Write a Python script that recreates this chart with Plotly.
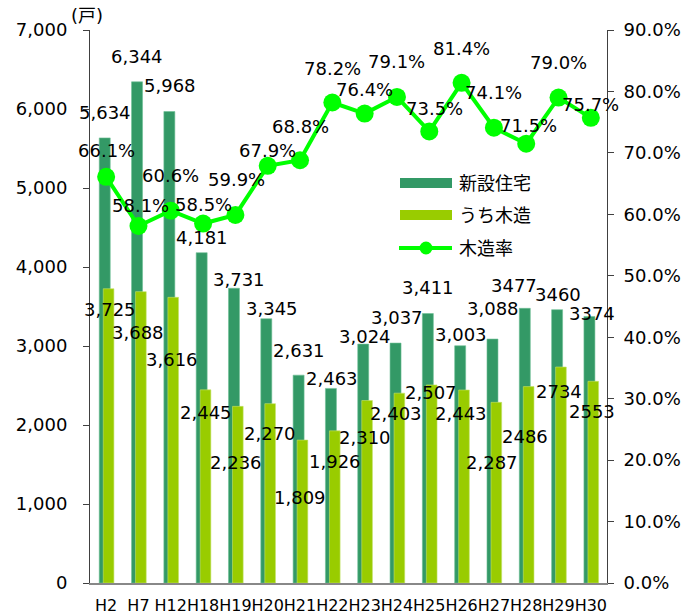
import plotly.graph_objects as go

# ---- data ----
categories = ["H2", "H7", "H12", "H18", "H19", "H20", "H21", "H22",
              "H23", "H24", "H25", "H26", "H27", "H28", "H29", "H30"]
new_houses = [5634, 6344, 5968, 4181, 3731, 3345, 2631, 2463,
              3024, 3037, 3411, 3003, 3088, 3477, 3460, 3374]
new_labels = ["5,634", "6,344", "5,968", "4,181", "3,731", "3,345", "2,631", "2,463",
              "3,024", "3,037", "3,411", "3,003", "3,088", "3477", "3460", "3374"]
wooden = [3725, 3688, 3616, 2445, 2236, 2270, 1809, 1926,
          2310, 2403, 2507, 2443, 2287, 2486, 2734, 2553]
wooden_labels = ["3,725", "3,688", "3,616", "2,445", "2,236", "2,270", "1,809", "1,926",
                 "2,310", "2,403", "2,507", "2,443", "2,287", "2486", "2734", "2553"]
wood_rate = [66.1, 58.1, 60.6, 58.5, 59.9, 67.9, 68.8, 78.2,
             76.4, 79.1, 73.5, 81.4, 74.1, 71.5, 79.0, 75.7]

# label offsets in pixels (dx, dy; dy positive = up) - style only
new_off = [(-1, 25), (-1, 25), (-1, 26), (-1, 15), (4, 9), (4, 10), (-1, 25), (0, 10),
           (0, 8), (0, 26), (-1, 26), (-1, 11), (-1, 31), (-12, 23), (-1, 15), (1, 3)]
wood_off = [(4, -21), (0, -41), (1, -62), (3, -23), (1, -56), (2, -30), (0, -57), (3, -31),
            (0, -37), (-1, -20), (2, -8), (-1, -23), (-2, -60), (-1, -50), (0, -24), (1, -30)]
rate_off = [(0, 26), (2, 21), (0, 35), (0, 19), (1, 35), (0, 15), (0, 34), (0, 34),
            (0, 24), (0, 35), (5, 23), (0, 34), (0, 35), (2, 18), (0, 35), (0, 13)]

DARK = "#339966"
LIGHT = "#99CC00"
LINE = "#00FF00"
FONT = "DejaVu Sans, Noto Sans CJK JP, sans-serif"
FS = 18

W, H = 687, 615
L, R, T, B = 90, 80, 30, 32
PW, PH = W - L - R, H - T - B


def px(x):
    return (x - L) / PW


def py(y):
    return (H - B - y) / PH


fig = go.Figure()
fig.add_trace(go.Bar(x=categories, y=new_houses, name="新設住宅",
                     marker=dict(color=DARK, line=dict(color="#6fbf95", width=0.6)),
                     width=0.34, offset=-0.214, showlegend=False))
fig.add_trace(go.Bar(x=categories, y=wooden, name="うち木造",
                     marker=dict(color=LIGHT, line=dict(color="#c4e36a", width=0.6)),
                     width=0.33, offset=-0.09, showlegend=False))
fig.add_trace(go.Scatter(x=categories, y=[r / 100 for r in wood_rate], name="木造率",
                         yaxis="y2", mode="lines+markers",
                         line=dict(color=LINE, width=4),
                         marker=dict(color=LINE, size=18), showlegend=False))

annotations = []
for c, v, t, (dx, dy) in zip(categories, new_houses, new_labels, new_off):
    annotations.append(dict(x=c, y=v, xref="x", yref="y", text=t, showarrow=False,
                            xshift=dx, yshift=dy, font=dict(size=FS, color="#000")))
for c, v, t, (dx, dy) in zip(categories, wooden, wooden_labels, wood_off):
    annotations.append(dict(x=c, y=v, xref="x", yref="y", text=t, showarrow=False,
                            xshift=dx, yshift=dy, font=dict(size=FS, color="#000")))
for c, v, (dx, dy) in zip(categories, wood_rate, rate_off):
    annotations.append(dict(x=c, y=v / 100, xref="x", yref="y2", text=f"{v:.1f}%",
                            showarrow=False, xshift=dx, yshift=dy,
                            font=dict(size=FS, color="#000")))

# unit label
annotations.append(dict(x=px(87), y=py(15), xref="paper", yref="paper", text="(戸)",
                        showarrow=False, xanchor="center", yanchor="middle",
                        font=dict(size=FS, color="#000")))

# custom legend
shapes = []
legend_items = [("新設住宅", DARK, 183), ("うち木造", LIGHT, 215)]
for name, col, yc in legend_items:
    shapes.append(dict(type="rect", xref="paper", yref="paper",
                       x0=px(400), x1=px(452), y0=py(yc - 5), y1=py(yc + 5),
                       fillcolor=col, line=dict(width=0)))
    annotations.append(dict(x=px(457), y=py(yc), xref="paper", yref="paper", text=name,
                            showarrow=False, xanchor="left", yanchor="middle",
                            font=dict(size=18, color="#000")))
shapes.append(dict(type="line", xref="paper", yref="paper",
                   x0=px(399), x1=px(452), y0=py(248), y1=py(248),
                   line=dict(color=LINE, width=4)))
shapes.append(dict(type="circle", xref="paper", yref="paper",
                   x0=px(419.5), x1=px(432.5), y0=py(254.5), y1=py(241.5),
                   fillcolor=LINE, line=dict(width=0)))
annotations.append(dict(x=px(457), y=py(248), xref="paper", yref="paper", text="木造率",
                        showarrow=False, xanchor="left", yanchor="middle",
                        font=dict(size=18, color="#000")))

fig.update_layout(
    width=W, height=H,
    margin=dict(l=L, r=R, t=T, b=B, pad=0),
    paper_bgcolor="white", plot_bgcolor="white",
    barmode="overlay",
    font=dict(family=FONT, size=FS, color="#000"),
    xaxis=dict(type="category", range=[-0.5, len(categories) - 0.5],
               showline=True, linecolor="#888888", linewidth=2,
               ticks="", tickangle=0, showgrid=False, zeroline=False,
               tickfont=dict(size=16), ticklabelstandoff=7, automargin=False),
    yaxis=dict(range=[0, 7000], dtick=1000, tickformat=",", showline=True,
               linecolor="#404040", linewidth=1, ticks="outside", ticklen=6,
               tickcolor="#404040", showgrid=False, zeroline=False,
               ticklabelstandoff=12, tickfont=dict(size=FS), automargin=False),
    yaxis2=dict(range=[0, 0.9], dtick=0.1, tickformat=".1%", overlaying="y",
                side="right", showline=True, linecolor="#404040", linewidth=1,
                ticks="outside", ticklen=6, tickcolor="#404040", showgrid=False,
                zeroline=False, ticklabelstandoff=6, tickfont=dict(size=FS),
                automargin=False),
    annotations=annotations,
    shapes=shapes,
    showlegend=False,
)

fig.write_html("out.html")
